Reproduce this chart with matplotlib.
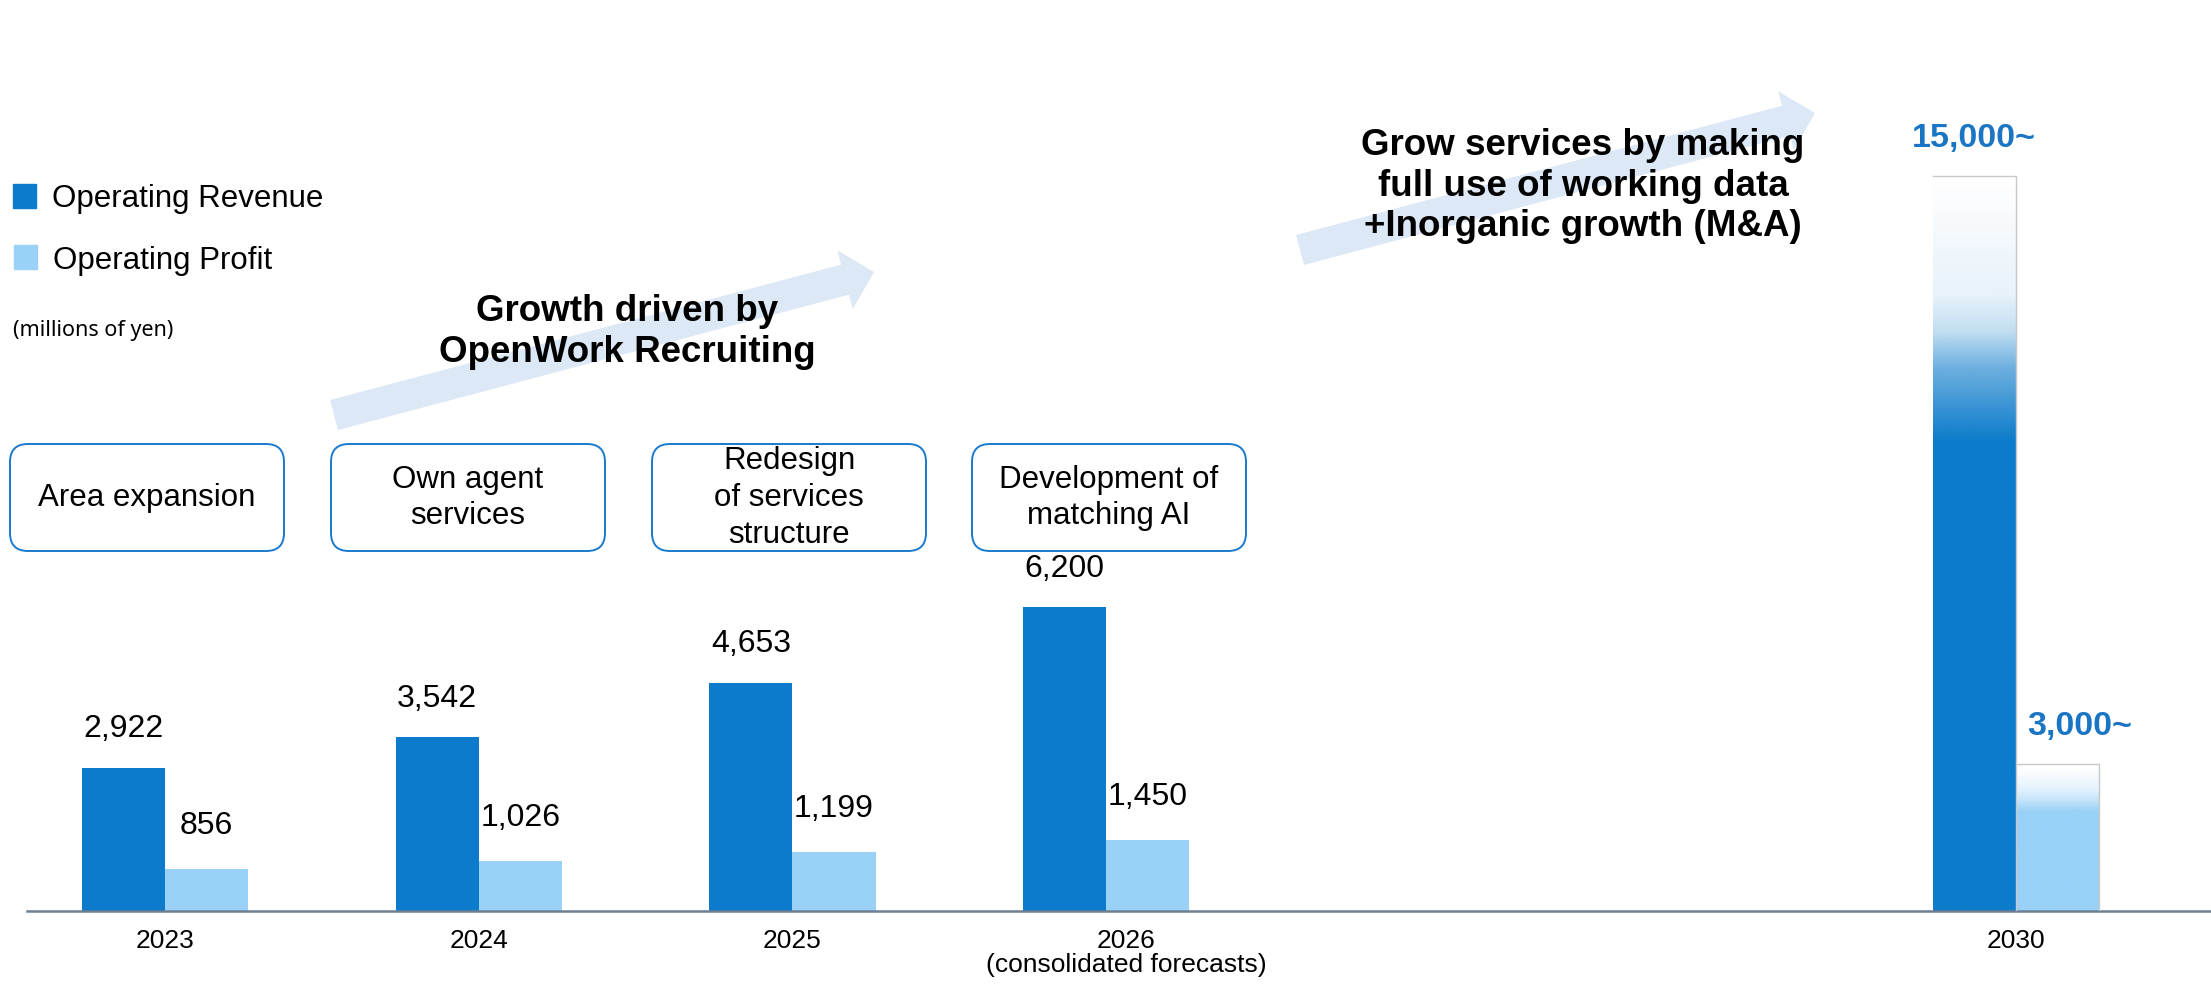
import numpy as np
import matplotlib
matplotlib.use("Agg")
import matplotlib.pyplot as plt
from matplotlib.patches import FancyBboxPatch, FancyArrow, Rectangle
from matplotlib.transforms import ScaledTranslation

plt.rcParams['font.family'] = ['Liberation Sans', 'DejaVu Sans']

# data (millions of yen)
years = ['2023', '2024', '2025', '2026\n(consolidated forecasts)', '2030']
revenue = [2922, 3542, 4653, 6200, 15000]
profit = [856, 1026, 1199, 1450, 3000]
open_ended = [False, False, False, False, True]   # targets shown as "N~"
initiatives = ['Area expansion', 'Own agent\nservices',
               'Redesign\nof services\nstructure', 'Development of\nmatching AI']

REV = '#0c7bcb'
PROF = '#99d1f7'
TARGET_BLUE = '#1a75c4'
ARROW = '#dce8f5'

W, H = 2211, 989
fig = plt.figure(figsize=(W / 100, H / 100), dpi=100)
ax = fig.add_axes([27 / W, (H - 911) / H, (W - 27) / W, 911 / H])

x = np.array([0, 1, 2, 3, 5.9])   # group centres, wider gap before 2030
w = 0.265

rev_bars = ax.bar(x - w / 2, revenue, w, color=REV, zorder=2)
prof_bars = ax.bar(x + w / 2, profit, w, color=PROF, zorder=2)


def fade_bar(bar, color, stops, alphas):
    # replace a flat bar by a vertical fade to white
    bar.set_facecolor('none')
    x0, h = bar.get_x(), bar.get_height()
    x1 = x0 + bar.get_width()
    f = np.linspace(0, 1, 500)
    img = np.zeros((500, 1, 4))
    img[..., :3] = matplotlib.colors.to_rgb(color)
    img[..., 3] = np.interp(f, stops, alphas)[:, None]
    im = ax.imshow(img, extent=[x0, x1, 0, h], origin='lower', aspect='auto',
                   interpolation='bilinear', zorder=2)
    im.set_clip_path(bar)
    ax.plot([x0, x1, x1], [h, h, 0], color='#c9c9c9', lw=1, zorder=3)


for i, last in enumerate(open_ended):
    if last:
        fade_bar(rev_bars[i], REV, [0, 0.64, 0.74, 0.79, 0.84, 0.96, 1],
                 [1, 1, 0.6, 0.25, 0.1, 0.02, 0])
        fade_bar(prof_bars[i], PROF, [0, 0.68, 0.76, 0.84, 0.95, 1],
                 [1, 1, 0.55, 0.25, 0.05, 0])

# value labels
for bars, vals, pad, shift in ((rev_bars, revenue, 17, 0), (prof_bars, profit, 20, 16)):
    labels = [f'{v:,}' + ('~' if o else '') for v, o in zip(vals, open_ended)]
    texts = ax.bar_label(bars, labels=labels, padding=pad, fontsize=23)
    for t, o in zip(texts, open_ended):
        if o:
            t.set_color(TARGET_BLUE)
            t.set_fontweight('bold')
            t.set_fontsize(24.5)
            t.xyann = (shift, 16)

ax.set_xlim(-0.44, 6.522)
ax.set_ylim(0, 911 / 0.049)
ax.set_yticks([])
ax.set_xticks(x)
ax.set_xticklabels(years, fontsize=19, linespacing=1.0)
ax.tick_params(axis='x', length=0, pad=13)
for s in ('top', 'left', 'right'):
    ax.spines[s].set_visible(False)
ax.spines['bottom'].set_color('#6d7f93')
ax.spines['bottom'].set_linewidth(1.8)
lab26 = ax.get_xticklabels()[3]
lab26.set_transform(lab26.get_transform() + ScaledTranslation(0.2, 0, fig.dpi_scale_trans))

# annotation layer in pixel coordinates
ov = fig.add_axes([0, 0, 1, 1], zorder=3)
ov.set_xlim(0, W)
ov.set_ylim(H, 0)
ov.axis('off')

# legend
ov.add_patch(Rectangle((13, 184), 23, 24, color=REV))
ov.text(52, 207, 'Operating Revenue', fontsize=22.5, va='baseline')
ov.add_patch(Rectangle((14, 245), 23, 24, color=PROF))
ov.text(53, 269, 'Operating Profit', fontsize=22.5, va='baseline')
ov.text(13, 336, '(millions of yen)', fontsize=15.5, va='baseline',
        family=['Noto Sans', 'DejaVu Sans'])

# growth arrows
for x0, y0, dx, dy in [(334, 415, 540, -143), (1300, 250, 515, -137)]:
    ov.add_patch(FancyArrow(x0, y0, dx, dy, width=31, head_width=61, head_length=30,
                            length_includes_head=True, color=ARROW, lw=0, zorder=1))
ov.text(627, 332, 'Growth driven by\nOpenWork Recruiting', ha='center', va='center',
        fontsize=26.5, fontweight='bold', zorder=2)
ov.text(1583, 186, 'Grow services by making\nfull use of working data\n+Inorganic growth (M&A)',
        ha='center', va='center', fontsize=26.5, fontweight='bold', zorder=2)

# initiative boxes
for bx, label in zip([10, 331, 652, 972], initiatives):
    ov.add_patch(FancyBboxPatch((bx, 444), 274, 107,
                                boxstyle='round,pad=0,rounding_size=18',
                                fc='white', ec='#1a7acb', lw=1.4, zorder=1))
    ov.text(bx + 137, 498, label, ha='center', va='center', fontsize=22.5,
            linespacing=1.3, zorder=2)

fig.savefig('out.png', dpi=100)
